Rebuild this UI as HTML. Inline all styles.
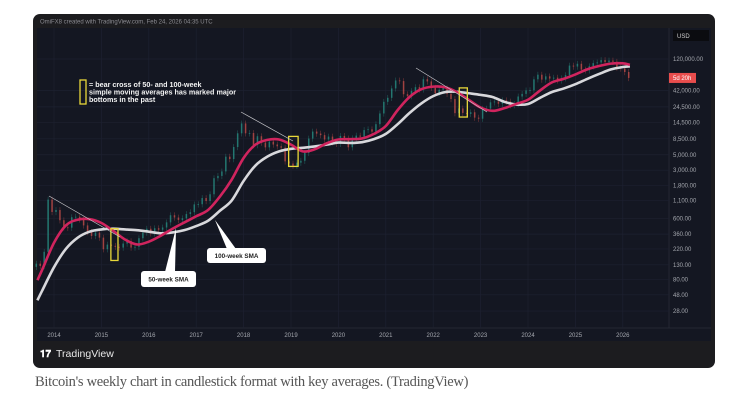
<!DOCTYPE html>
<html><head><meta charset="utf-8"><style>
html,body{margin:0;padding:0;background:#fff;width:736px;height:409px;overflow:hidden}
#caption{position:absolute;left:35px;top:374px;font-family:"Liberation Serif",serif;font-size:14.5px;color:#555;letter-spacing:-0.3px}
</style></head><body>
<svg id="chart" width="736" height="409" style="position:absolute;left:0;top:0" font-family="Liberation Sans, sans-serif">
<rect x="33" y="14" width="682" height="354" rx="7" fill="#1c1c1f"/>
<text x="40" y="23.5" font-size="6" fill="#8a8a90">OmiFX8 created with TradingView.com, Feb 24, 2026 04:35 UTC</text>
<rect x="37" y="28" width="632" height="300" fill="#141722"/>
<rect x="669" y="28" width="42" height="300" fill="#141722"/>
<line x1="669" y1="28" x2="669" y2="341" stroke="#2a2e39" stroke-width="0.7"/>
<rect x="37" y="328" width="674" height="13" fill="#141722"/>
<line x1="37" y1="328" x2="711" y2="328" stroke="#2a2e39" stroke-width="0.7"/>
<g id="grid"></g>
<g id="candles"></g>
<g id="smas"></g>
<g id="annot"></g>
<g id="axes"></g>
<rect x="673" y="30" width="36" height="11" fill="#0b0c10"/>
<text x="677" y="38" font-size="6" fill="#d0d0d0">USD</text>
<g>
<text x="40" y="357" font-size="10" font-weight="bold" fill="#fff">𝟏𝟕</text>
<text x="56" y="357" font-size="10.5" fill="#e8e8e8">TradingView</text>
</g>
</svg>
<div id="caption">Bitcoin's weekly chart in candlestick format with key averages. (TradingView)</div>
<script>
const years=[2014,2015,2016,2017,2018,2019,2020,2021,2022,2023,2024,2025,2026];
const priceTicks=[120000,42000,24500,14500,8500,5000,3000,1800,1100,600,360,220,130,80,48,28];
const priceTickLabels=["120,000.00","42,000.00","24,500.00","14,500.00","8,500.00","5,000.00","3,000.00","1,800.00","1,100.00","600.00","360.00","220.00","130.00","80.00","48.00","28.00"];
const startMonth=2013+7/12; // Aug 2013
const closes=[135,125,200,1130,750,
800,570,450,445,630,640,585,480,385,338,378,320,
218,254,244,236,230,263,285,230,236,314,378,430,
369,437,416,448,531,673,624,575,609,700,745,964,
970,1190,1080,1350,2300,2480,2880,4700,4340,6470,10200,14150,
10200,10300,6900,9250,7500,6400,7730,7030,6630,6320,4020,3740,
3460,3850,4100,5320,8570,10800,10100,9600,8300,9150,7570,7190,
9350,8600,6420,8650,9450,9140,11350,11650,10780,13800,19700,29000,
33100,45200,58900,57700,37300,35000,41500,47100,43800,61300,57000,46300,
38500,43200,45500,37700,31800,19900,23300,20050,19400,20500,17150,16550,
23100,23150,28500,29250,27200,30500,29250,25950,26970,34600,37700,42300,
42600,61200,71300,60600,67500,62700,64600,59000,63300,70200,96400,93400,
102400,84400,82500,94200,104600,107100,115800,108200,114000,109500,90400,87500,
78000,64000];
const smaDates=[2013.65,2013.75,2014.0,2014.25,2014.5,2014.75,2015.0,2015.25,2015.5,2015.75,2016.0,2016.25,2016.5,2016.75,2017.0,2017.25,2017.5,2017.75,2018.0,2018.25,2018.5,2018.75,2019.0,2019.25,2019.5,2019.75,2020.0,2020.25,2020.5,2020.75,2021.0,2021.25,2021.5,2021.75,2022.0,2022.25,2022.5,2022.75,2023.0,2023.25,2023.5,2023.75,2024.0,2024.25,2024.5,2024.75,2025.0,2025.25,2025.5,2025.75,2026.0,2026.15];
const sma50=[78,110,270,480,580,590,520,400,300,255,280,340,430,530,650,800,1250,2200,4500,7000,8200,8300,7000,5600,6000,7300,8300,8400,8600,10000,13000,22000,34000,44000,48000,47000,40000,31000,24000,21500,23500,27000,31000,42000,55000,62000,72000,85000,95000,103000,104000,99000];
const sma100=[40,55,120,220,320,390,420,430,420,410,390,370,380,410,470,560,780,1100,2100,3500,4700,5600,6100,6300,6600,7000,7500,7400,7600,8400,10000,13800,20000,27500,35000,40000,40500,38500,36500,34000,29000,26500,27000,33000,40000,45000,52000,62000,73000,85000,92000,94000];
const bearCrossBoxes=[[2015.2,2015.35,430,150],[2018.95,2019.15,9200,3400],[2022.55,2022.72,46000,17500]];

const NS="http://www.w3.org/2000/svg";
function X(t){return 54+(t-2014)*47.4;}
function Y(p){return 59+(Math.log10(120000)-Math.log10(p))*69.4;}
function mk(tag,attrs,parent){const e=document.createElementNS(NS,tag);for(const k in attrs)e.setAttribute(k,attrs[k]);parent.appendChild(e);return e;}
const grid=document.getElementById('grid'),cand=document.getElementById('candles'),smas=document.getElementById('smas'),ann=document.getElementById('annot'),axes=document.getElementById('axes');

priceTicks.forEach((p,i)=>{
  const y=Y(p);
  const g=mk('line',{x1:37,x2:669,y1:y,y2:y,stroke:'#1d2130','stroke-width':0.7},grid);
  
  
  const t=mk('text',{x:673,y:y+2,'font-size':6,fill:'#a4a7ae'},axes);
  t.textContent=priceTickLabels[i];
  
  
});
years.forEach(yr=>{
  const x=X(yr);
  const g=mk('line',{x1:x,x2:x,y1:28,y2:328,stroke:'#1d2130','stroke-width':0.7},grid);
  
  
  const t=mk('text',{x:x,y:337,'font-size':6,fill:'#a4a7ae','text-anchor':'middle'},axes);
  t.textContent=yr;
  
  
});

closes.forEach((c,i)=>{
  const o=i===0?c*0.9:closes[i-1];
  const t=startMonth+i/12;
  const x=X(t)+2;
  const up=c>=o;
  const col=up?'#2a9d8f':'#d9534f';
  const hi=Math.max(o,c)*1.1, lo=Math.min(o,c)*0.9;
  const w=mk('line',{x1:x,x2:x,y1:Y(hi),y2:Y(lo),stroke:col,'stroke-width':0.5,opacity:0.6},cand);
  
  
  const yt=Y(Math.max(o,c)),yb=Y(Math.min(o,c));
  const b=mk('rect',{x:x-0.8,y:yt,width:1.6,height:Math.max(0.8,yb-yt),fill:col,opacity:0.6},cand);
  
  
});

function smooth(dates,vals){
  const pts=dates.map((d,i)=>[X(d),Y(vals[i])]);
  let d='M'+pts[0][0]+','+pts[0][1];
  for(let i=0;i<pts.length-1;i++){
    const p0=pts[Math.max(0,i-1)],p1=pts[i],p2=pts[i+1],p3=pts[Math.min(pts.length-1,i+2)];
    const c1=[p1[0]+(p2[0]-p0[0])/6,p1[1]+(p2[1]-p0[1])/6],c2=[p2[0]-(p3[0]-p1[0])/6,p2[1]-(p3[1]-p1[1])/6];
    d+=`C${c1[0]},${c1[1]} ${c2[0]},${c2[1]} ${p2[0]},${p2[1]}`;
  }
  return d;
}
const l100=mk('path',{d:smooth(smaDates,sma100),fill:'none',stroke:'#d8d8dc','stroke-width':2.6},smas);


const l50=mk('path',{d:smooth(smaDates,sma50),fill:'none',stroke:'#d0245e','stroke-width':2.6},smas);



bearCrossBoxes.forEach(b=>{
  const r=mk('rect',{x:X(b[0]),y:Y(b[2]),width:X(b[1])-X(b[0]),height:Y(b[3])-Y(b[2]),fill:'none',stroke:'#e8d83a','stroke-width':1.3},ann);
  
  
});
const trend=[[49,196,120,237],[241,112,293,141],[416,68,487,112]];
trend.forEach(t=>{
  const l=mk('line',{x1:t[0],y1:t[1],x2:t[2],y2:t[3],stroke:'#c8c8cc','stroke-width':0.7},ann);
  
  
});
const lb=mk('rect',{x:80,y:80,width:6,height:24,fill:'none',stroke:'#e8d83a','stroke-width':1.3},ann);


["= bear cross of 50- and 100-week","simple moving averages has marked major","bottoms in the past"].forEach((s,i)=>{
  const t=mk('text',{x:89,y:87+i*7.6,'font-size':7.2,'font-weight':'bold',fill:'#f2f2f2'},ann);
  t.textContent=s;
  
  
});
const c1=mk('path',{d:'M215,220 L227,249 L236,249 Z',fill:'#fff'},ann);


const c1b=mk('rect',{x:207,y:248,width:59,height:15,rx:3,fill:'#fff'},ann);


const c1t=mk('text',{x:236.5,y:258,'font-size':6.3,'font-weight':'bold',fill:'#222','text-anchor':'middle'},ann);
c1t.textContent='100-week SMA';
const c2=mk('path',{d:'M176,228 L165,272 L175,272 Z',fill:'#fff'},ann);


const c2b=mk('rect',{x:141,y:271,width:55,height:16,rx:3,fill:'#fff'},ann);


const c2t=mk('text',{x:168.5,y:281.5,'font-size':6.3,'font-weight':'bold',fill:'#222','text-anchor':'middle'},ann);
c2t.textContent='50-week SMA';
const lastY=Y(closes[closes.length-1]);
const pl=mk('rect',{x:669,y:lastY-5,width:27,height:10,fill:'#e84d4d'},axes);


const plt=mk('text',{x:673,y:lastY+2,'font-size':6,fill:'#fff'},axes);
plt.textContent='5d 20h';
</script>
</body></html>
